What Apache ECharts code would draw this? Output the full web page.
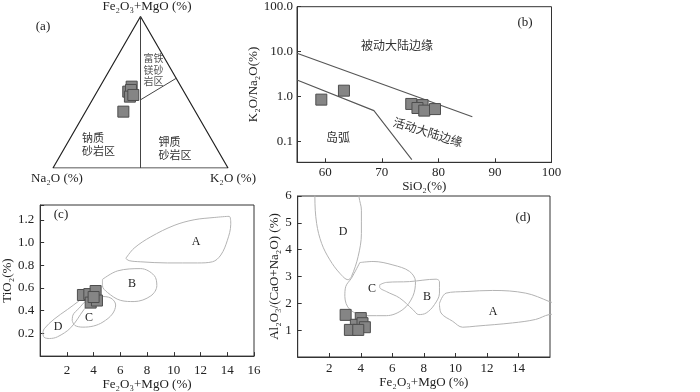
<!DOCTYPE html>
<html>
<head>
<meta charset="utf-8">
<script src="https://cdn.jsdelivr.net/npm/echarts@6/dist/echarts.min.js"></script>
<style>
  html, body { margin: 0; padding: 0; background: #fff; }
  #chart { width: 700px; height: 392px; }
</style>
</head>
<body>
<div id="chart"></div>
<script>
// (a) ternary points: [Fe2O3+MgO, Na2O, K2O]
var ternaryPts = [
  [53.7, 28.2, 18.1],
  [50.4, 31.8, 17.8],
  [51.5, 29.7, 18.8],
  [47.1, 32.5, 20.4],
  [48.2, 30.0, 21.8],
  [37.2, 41.2, 21.6]
];
var ternaryCorners = [[100, 0, 0], [0, 100, 0], [0, 0, 100], [100, 0, 0]];
var ternaryMid = [[100, 0, 0], [0, 50, 50]];
var ternaryDivide = [[45, 27.5, 27.5], [59.2, 0, 40.8]];

// (b) SiO2 vs K2O/Na2O
var bSiO2 = [59.3, 63.3, 75.2, 77.2, 76.3, 77.5, 79.4];
var bRatio = [0.86, 1.36, 0.69, 0.65, 0.56, 0.49, 0.53];
var bUpper = [[55, 9.2], [86, 0.36]];
var bLower = [[55, 2.35], [68.6, 0.49], [75.3, 0.04]];

// (c) Fe2O3+MgO vs TiO2
var cFeMg = [3.2, 3.68, 4.15, 3.78, 4.25, 4.0];
var cTiO2 = [0.538, 0.546, 0.573, 0.471, 0.489, 0.52];
var cA = [[6.41,0.86],[7.03,0.95],[8.28,1.05],[10.02,1.15],[11.52,1.2],[13.02,1.22],[14.14,1.23],[14.26,1.16],[14.01,1.02],[13.52,0.89],[12.89,0.83],[11.77,0.82],[9.53,0.82],[7.53,0.83],[6.66,0.84],[6.41,0.86]];
var cB = [[4.66,0.675],[5.79,0.75],[7.53,0.77],[8.53,0.71],[8.73,0.62],[8.28,0.53],[7.03,0.48],[6.03,0.49],[5.04,0.56],[4.66,0.62],[4.66,0.675]];
var cC = [[2.4,0.31],[2.45,0.36],[2.9,0.42],[3.5,0.49],[4.5,0.525],[5.3,0.51],[5.65,0.45],[5.4,0.37],[4.7,0.3],[4.0,0.265],[3.2,0.255],[2.6,0.27],[2.4,0.31]];
var cD = [[0.2,0.2],[0.3,0.24],[1.04,0.325],[2.04,0.41],[2.9,0.485],[3.5,0.54],[3.75,0.52],[3.65,0.46],[3.28,0.41],[2.29,0.25],[1.3,0.17],[0.7,0.155],[0.3,0.165],[0.2,0.2]];

// (d) Fe2O3+MgO vs Al2O3/(CaO+Na2O)
var dFeMg = [3.04, 4.0, 3.69, 4.11, 3.31, 4.26, 3.84];
var dAl = [1.57, 1.45, 1.2, 1.26, 1.01, 1.11, 1.01];
var dA = [[8.99,2.0],[9.41,2.38],[10.67,2.44],[12.36,2.48],[14.46,2.38],[15.94,2.07],[16.5,1.9],[16.5,1.6],[15.94,1.58],[15.09,1.4],[13.62,1.27],[11.3,1.15],[10.46,1.11],[9.83,1.33],[9.09,1.64],[8.99,2.0]];
var dB = [[5.2,2.69],[5.62,2.78],[7.09,2.81],[8.78,2.9],[8.99,2.81],[8.99,2.38],[8.67,1.95],[8.15,1.64],[7.68,1.58],[7.3,1.77],[6.46,2.2],[5.62,2.44],[5.2,2.6],[5.2,2.69]];
var dC = [[3.94,3.52],[4.78,3.56],[6.04,3.43],[7.09,3.19],[7.47,2.81],[7.3,2.26],[6.67,1.77],[5.62,1.54],[4.36,1.54],[3.31,1.77],[2.99,2.26],[3.05,2.63],[3.41,2.94],[3.94,3.52]];
var dD = [[1.09,6.4],[1.09,5.96],[1.2,4.98],[1.52,4.23],[2.04,3.62],[2.67,3.12],[3.2,2.88],[3.41,3.0],[3.83,3.74],[4.04,4.6],[4.04,5.47],[3.89,5.96],[3.85,6.4]];

var serif = '"Liberation Serif", "Times New Roman", serif';
var cjk = '"Noto Sans CJK SC", sans-serif';

// 三角图坐标换算
function tern(p) {
  var s = p[0] + p[1] + p[2];
  return [(p[2] + p[0] / 2) / s, (p[0] / s) * Math.sqrt(3) / 2];
}
function zip(a, b) {
  return a.map(function (v, i) { return [v, b[i]]; });
}

var axisCol = '#333';
var hidden = { show: false };
function valAxis(idx, o) {
  return Object.assign({
    gridIndex: idx, type: 'value',
    axisLine: { show: true, lineStyle: { color: axisCol, width: 1 } },
    axisTick: { show: true, inside: true, length: 4, lineStyle: { color: axisCol } },
    splitLine: hidden,
    axisLabel: { color: '#222', fontFamily: serif, fontSize: 13, margin: 5 },
    nameTextStyle: { color: '#222', fontFamily: serif, fontSize: 13 },
    nameLocation: 'middle'
  }, o);
}

function line(xi, data, col, w, smooth) {
  return {
    type: 'line', xAxisIndex: xi, yAxisIndex: xi, data: data,
    symbol: 'none', silent: true, smooth: smooth || false,
    lineStyle: { color: col, width: w }, z: 2
  };
}
function squares(xi, data) {
  return {
    type: 'scatter', xAxisIndex: xi, yAxisIndex: xi, data: data,
    symbol: 'rect', symbolSize: 11, z: 5,
    itemStyle: { color: '#858585', borderColor: '#4d4d4d', borderWidth: 1, opacity: 1 }
  };
}
var env = '#b3b3b3';
var myChart = echarts.init(document.getElementById('chart'));
var gridBox = { show: true, borderColor: axisCol, borderWidth: 1, backgroundColor: 'transparent' };

function txt(x, y, s, o) {
  return {
    type: 'text', x: x, y: y, silent: true,
    style: Object.assign({ text: s, fill: '#222', font: '13px ' + serif, textAlign: 'center', textVerticalAlign: 'middle' }, o || {})
  };
}

myChart.setOption({
  animation: false,
  grid: [
    { left: 53, top: 16.5, width: 175, height: 151.5 },
    Object.assign({ left: 297, top: 6.7, width: 254.5, height: 155.6 }, gridBox),
    Object.assign({ left: 39.3, top: 205, width: 214.7, height: 152 }, gridBox),
    Object.assign({ left: 297.7, top: 196, width: 252.3, height: 161 }, gridBox)
  ],
  xAxis: [
    { gridIndex: 0, type: 'value', min: 0, max: 1, show: false },
    valAxis(1, { min: 55, max: 100, splitNumber: 5, name: 'SiO₂(%)', nameGap: 10,
      axisLabel: { color: '#222', fontFamily: serif, fontSize: 13, margin: 4,
        formatter: function (v) { return v % 10 === 0 ? v : ''; } } }),
    valAxis(2, { min: 0, max: 16, interval: 2, name: 'Fe₂O₃+MgO (%)', nameGap: 19,
      axisLabel: { color: '#222', fontFamily: serif, fontSize: 13, margin: 8, showMinLabel: false } }),
    valAxis(3, { min: 0, max: 16, interval: 2, name: 'Fe₂O₃+MgO (%)', nameGap: 19,
      axisLabel: { color: '#222', fontFamily: serif, fontSize: 13, margin: 5, showMinLabel: false, showMaxLabel: false } })
  ],
  yAxis: [
    { gridIndex: 0, type: 'value', min: 0, max: Math.sqrt(3) / 2, show: false },
    valAxis(1, { type: 'log', logBase: 10, min: 0.0348, max: 100, name: 'K₂O/Na₂O(%)', nameGap: 29, nameRotate: 90,
      axisLabel: { color: '#222', fontFamily: serif, fontSize: 13, margin: 4,
        formatter: function (v) {
          var l = Math.log10(v);
          return Math.abs(l - Math.round(l)) < 1e-6 ? v.toFixed(1) : '';
        } } }),
    valAxis(2, { min: 0, max: 1.33, interval: 0.2, name: 'TiO₂(%)', nameGap: 26, nameRotate: 90,
      axisLabel: { color: '#222', fontFamily: serif, fontSize: 13, margin: 6, showMinLabel: false,
        formatter: function (v) { return v > 1.25 ? '' : v.toFixed(1); } } }),
    valAxis(3, { min: 0, max: 6, interval: 1, name: 'Al₂O₃/(CaO+Na₂O) (%)', nameGap: 14, nameRotate: 90,
      axisLabel: { color: '#222', fontFamily: serif, fontSize: 13, margin: 6, showMinLabel: false } })
  ],
  series: [
    line(0, ternaryCorners.map(tern), '#222', 1.2),
    line(0, ternaryMid.map(tern), '#444', 1),
    line(0, ternaryDivide.map(tern), '#444', 1),
    squares(0, ternaryPts.map(tern)),

    line(1, bUpper, '#555', 1.1),
    line(1, bLower, '#555', 1.1),
    squares(1, zip(bSiO2, bRatio)),

    line(2, cA, env, 1, 0.35),
    line(2, cB, env, 1, 0.35),
    line(2, cC, env, 1, 0.35),
    line(2, cD, env, 1, 0.35),
    squares(2, zip(cFeMg, cTiO2)),

    line(3, dA, env, 1, 0.35),
    line(3, dB, env, 1, 0.35),
    line(3, dC, env, 1, 0.35),
    line(3, dD, env, 1, 0.35),
    squares(3, zip(dFeMg, dAl))
  ],
  graphic: [
    // (a)
    txt(147, 7, 'Fe₂O₃+MgO (%)'),
    txt(43, 27, '(a)'),
    txt(57, 179, 'Na₂O (%)'),
    txt(233, 179, 'K₂O (%)'),
    txt(82, 144.5, '钠质\n砂岩区', { font: '11px ' + cjk, textAlign: 'left', lineHeight: 13, fill: '#333' }),
    txt(158.5, 148, '钾质\n砂岩区', { font: '11px ' + cjk, textAlign: 'left', lineHeight: 13, fill: '#333' }),
    txt(143.5, 70, '富铁\n镁砂\n岩区', { font: '10px ' + cjk, textAlign: 'left', lineHeight: 11.7, fill: '#555' }),
    // (b)
    txt(525, 23, '(b)'),
    txt(397, 45, '被动大陆边缘', { font: '12px ' + cjk, fill: '#333' }),
    txt(338, 137, '岛弧', { font: '12px ' + cjk, fill: '#333' }),
    { type: 'text', x: 428, y: 132, rotation: -0.3, silent: true,
      style: { text: '活动大陆边缘', fill: '#333', font: '12px ' + cjk, textAlign: 'center', textVerticalAlign: 'middle' } },
    // (c)
    txt(61, 215, '(c)'),
    txt(196, 242, 'A', { font: '12px ' + serif }),
    txt(132, 284, 'B', { font: '12px ' + serif }),
    txt(89, 318, 'C', { font: '12px ' + serif }),
    txt(58, 327, 'D', { font: '12px ' + serif }),
    // (d)
    txt(523, 218, '(d)'),
    txt(343, 232, 'D', { font: '12px ' + serif }),
    txt(372, 289, 'C', { font: '12px ' + serif }),
    txt(427, 297, 'B', { font: '12px ' + serif }),
    txt(493, 312, 'A', { font: '12px ' + serif })
  ]
});
window.addEventListener('resize', function () {
  myChart.resize();
});
</script>
</body>
</html>
